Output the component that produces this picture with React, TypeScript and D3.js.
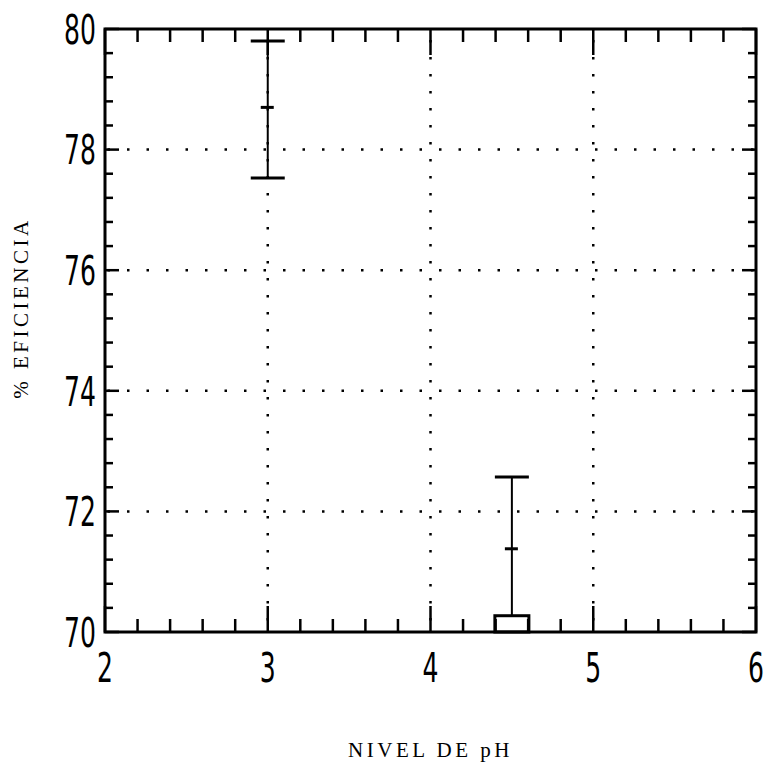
import React from "react";
import * as d3 from "d3";

// pH levels and efficiency (mean with upper / lower limits)
const phLevels = [3, 4.5];
const means = [78.7, 71.38];
const upper = [79.8, 72.57];
const lower = [77.53, 70.27];

const xMajor = [2, 3, 4, 5, 6];
const yMajor = [70, 72, 74, 76, 78, 80];

const W = 767;
const H = 766;
const margin = { top: 29, right: 11, bottom: 134, left: 105 };

export default function App() {
  const width = W - margin.left - margin.right;
  const height = H - margin.top - margin.bottom;

  const x = d3.scaleLinear().domain([2, 6]).range([0, width]);
  const y = d3.scaleLinear().domain([70, 80]).range([height, 0]);

  const xMinor = d3.range(2, 6.001, 0.2);
  const yMinor = d3.range(70, 80.001, 0.4);

  const tickFont = "'DejaVu Sans Condensed', 'DejaVu Sans', sans-serif";
  const titleFont = "'Liberation Serif', 'DejaVu Serif', serif";

  return (
    <svg
      width={W}
      height={H}
      style={{ position: "absolute", left: 0, top: 0, background: "white" }}
    >
      <g transform={`translate(${margin.left},${margin.top})`}>
        {/* dotted grid */}
        {xMajor.slice(1, -1).map((v) => (
          <line
            key={"gx" + v}
            x1={x(v)}
            x2={x(v)}
            y1={0}
            y2={height}
            stroke="#000"
            strokeWidth={2.5}
            strokeDasharray="2.5 14.5"
            strokeDashoffset={-28}
          />
        ))}
        {yMajor.slice(1, -1).map((v) => (
          <line
            key={"gy" + v}
            x1={0}
            x2={width}
            y1={y(v)}
            y2={y(v)}
            stroke="#000"
            strokeWidth={2.5}
            strokeDasharray="2.5 17"
            strokeDashoffset={-22}
          />
        ))}

        {/* x ticks, bottom and top */}
        {xMinor.map((v, i) => {
          const len = i % 5 === 0 ? 26 : 13;
          return (
            <g key={"xt" + i}>
              <line x1={x(v)} x2={x(v)} y1={height} y2={height - len} stroke="#000" strokeWidth={2.5} />
              <line x1={x(v)} x2={x(v)} y1={0} y2={len} stroke="#000" strokeWidth={2.5} />
            </g>
          );
        })}
        {/* y ticks, left and right */}
        {yMinor.map((v, i) => {
          const len = i % 5 === 0 ? 14 : 8;
          return (
            <g key={"yt" + i}>
              <line x1={0} x2={len} y1={y(v)} y2={y(v)} stroke="#000" strokeWidth={2.5} />
              <line x1={width} x2={width - len} y1={y(v)} y2={y(v)} stroke="#000" strokeWidth={2.5} />
            </g>
          );
        })}

        {/* frame */}
        <rect x={0} y={0} width={width} height={height} fill="none" stroke="#000" strokeWidth={3} />

        {/* error bars */}
        {phLevels.map((p, i) => (
          <g key={"eb" + i} stroke="#000" fill="none">
            <line x1={x(p)} x2={x(p)} y1={y(upper[i])} y2={y(lower[i])} strokeWidth={2} />
            <line x1={x(p) - 17} x2={x(p) + 17} y1={y(upper[i])} y2={y(upper[i])} strokeWidth={3} />
            <line x1={x(p) - 7} x2={x(p) + 6} y1={y(means[i])} y2={y(means[i])} strokeWidth={3} />
            {y(lower[i]) > height - 20 ? (
              <rect
                x={x(p) - 17}
                y={y(lower[i])}
                width={34}
                height={height - y(lower[i])}
                strokeWidth={3}
              />
            ) : (
              <line x1={x(p) - 17} x2={x(p) + 17} y1={y(lower[i])} y2={y(lower[i])} strokeWidth={3} />
            )}
          </g>
        ))}

        {/* tick labels */}
        {yMajor.map((v) => (
          <text
            key={"yl" + v}
            transform={`translate(${-9},${y(v)}) scale(0.82,1.2)`}
            dy="0.36em"
            textAnchor="end"
            fontFamily={tickFont}
            fontSize={34}
            fill="#000"
          >
            {v}
          </text>
        ))}
        {xMajor.map((v) => (
          <text
            key={"xl" + v}
            transform={`translate(${x(v)},${height + 50}) scale(0.82,1.2)`}
            textAnchor="middle"
            fontFamily={tickFont}
            fontSize={34}
            fill="#000"
          >
            {v}
          </text>
        ))}

        {/* axis titles */}
        <text
          x={x(4)}
          y={height + 125}
          textAnchor="middle"
          fontFamily={titleFont}
          fontSize={21}
          letterSpacing={3.5}
          fill="#000"
        >
          NIVEL DE pH
        </text>
        <text
          transform={`translate(${-77},${308 - margin.top}) rotate(-90)`}
          textAnchor="middle"
          fontFamily={titleFont}
          fontSize={21}
          letterSpacing={3.5}
          fill="#000"
        >
          % EFICIENCIA
        </text>
      </g>
    </svg>
  );
}
